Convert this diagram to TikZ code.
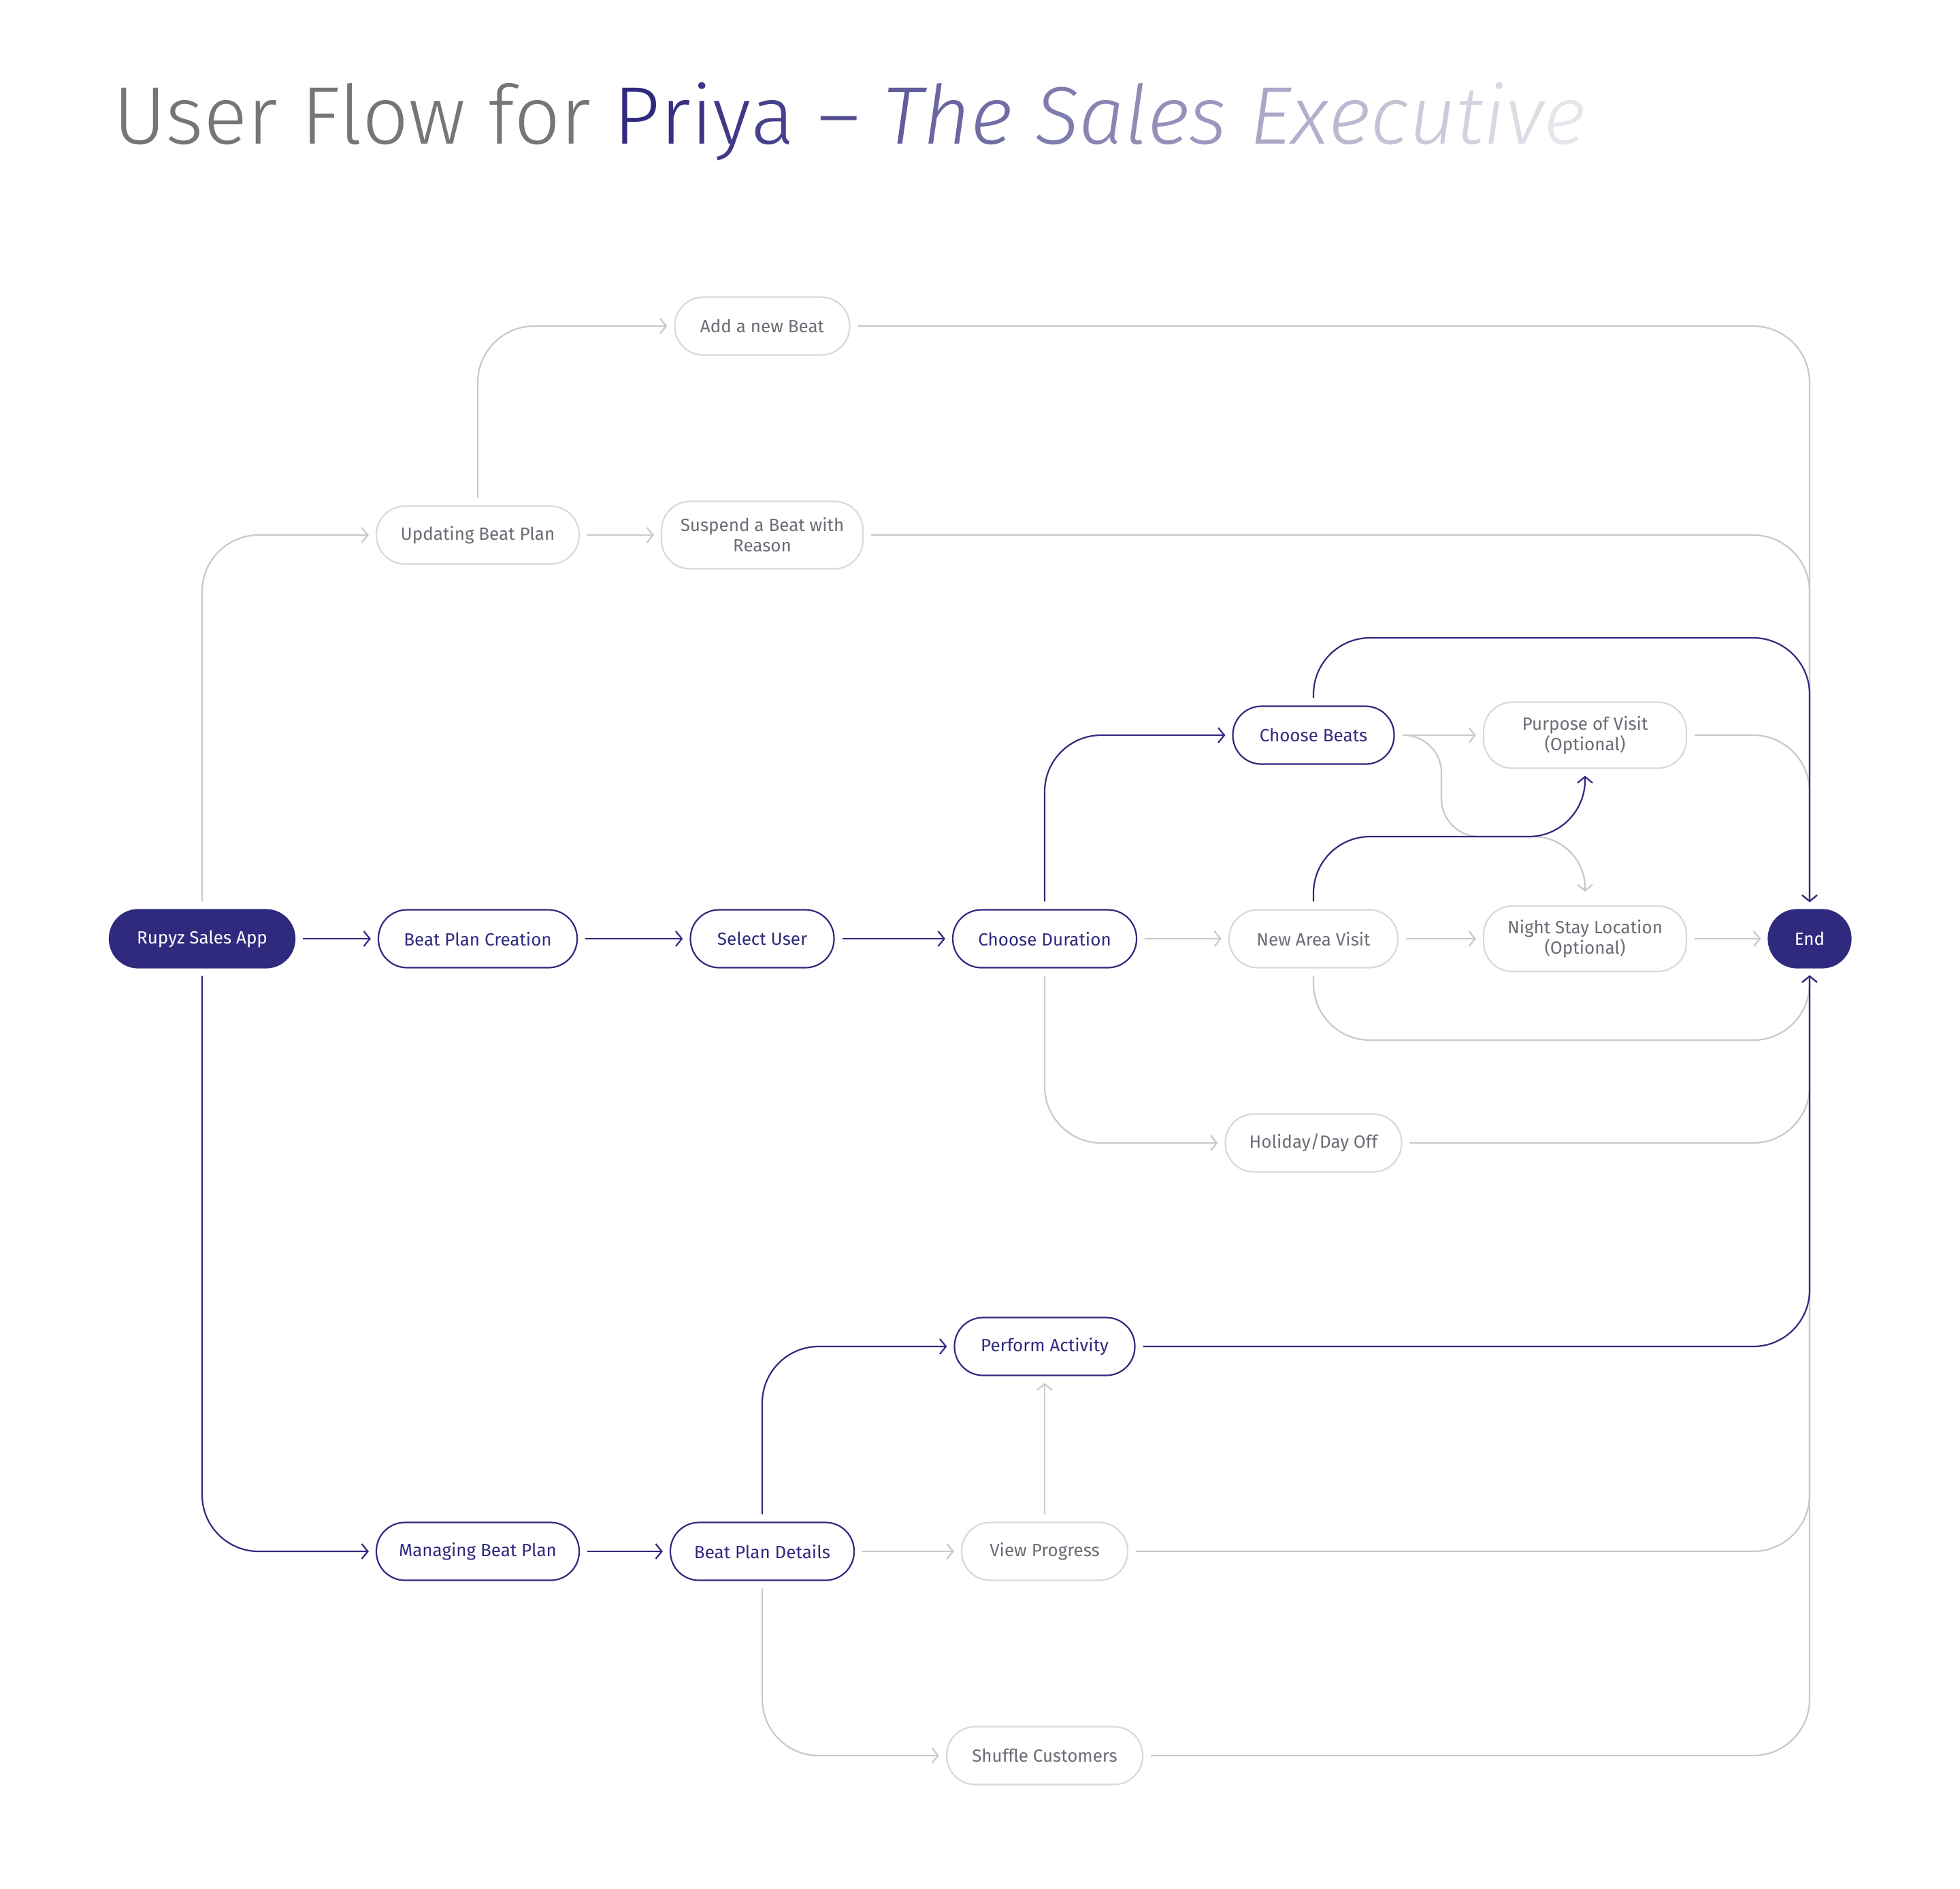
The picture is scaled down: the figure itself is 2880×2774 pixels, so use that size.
\documentclass[tikz,border=0pt]{standalone}
\usepackage{fontspec}
\setmainfont{Fira Sans}
\newfontfamily\titlefont{Fira Sans Light}
\usetikzlibrary{arrows.meta}
\definecolor{navy}{RGB}{48,42,126}
\definecolor{tlight}{RGB}{235,235,238}
\definecolor{titlegray}{RGB}{118,118,118}
\definecolor{grayb}{RGB}{216,216,221}
\definecolor{grayl}{RGB}{200,200,206}
\definecolor{grayt}{RGB}{108,108,118}
\newcommand{\tc}[2]{\textcolor{navy!#1!tlight}{#2}}
\begin{document}
\begin{tikzpicture}[x=1pt,y=-1pt,
  box/.style={rectangle, rounded corners=42pt, minimum height=85pt, align=center,
    line width=2.2pt, inner sep=0pt, font=\fontsize{26}{30}\selectfont},
  nbox/.style={box, draw=navy, text=navy, fill=white},
  gbox/.style={box, draw=grayb, text=grayt, fill=white},
  nfill/.style={box, draw=navy, fill=navy, text=white},
  conn/.style={line width=2.2pt, rounded corners=83pt, shorten <=11pt, shorten >=10pt,
    -{Straight Barb[length=9pt,width=22pt]}},
  nl/.style={conn, draw=navy},
  gl/.style={conn, draw=grayl}
]
\useasboundingbox[fill=white] (0,0) rectangle (2880,2774);

\node[anchor=base west, inner sep=0pt, font=\titlefont\fontsize{120}{144}\selectfont] (title) at (166,211)
 {\textcolor{titlegray}{User Flow for }\tc{100}{P}\tc{96}{r}\tc{94}{i}\tc{92}{y}\tc{88}{a} \tc{81}{–} \itshape\tc{74}{T}\tc{69}{h}\tc{65}{e} \tc{58}{S}\tc{53}{a}\tc{49}{l}\tc{47}{e}\tc{43}{s} \tc{35}{E}\tc{31}{x}\tc{26}{e}\tc{21}{c}\tc{17}{u}\tc{13}{t}\tc{10}{i}\tc{8}{v}\tc{3}{e}};

% nodes
\node[nfill, minimum width=272pt] (app) at (297,1379) {Rupyz Sales App};
\node[nbox, minimum width=292pt] (bpc) at (702,1379) {Beat Plan Creation};
\node[nbox, minimum width=211pt] (su) at (1120,1379) {Select User};
\node[nbox, minimum width=270pt] (cd) at (1535,1379) {Choose Duration};
\node[gbox, minimum width=248pt] (nav) at (1930,1379) {New Area Visit};
\node[gbox, minimum width=298pt, minimum height=96pt] (nsl) at (2329,1379) {Night Stay Location\\(Optional)};
\node[nfill, minimum width=121pt] (end) at (2659,1379) {End};
\node[nbox, minimum width=237pt] (cb) at (1930,1080) {Choose Beats};
\node[gbox, minimum width=298pt, minimum height=97pt] (pov) at (2329,1080) {Purpose of Visit\\(Optional)};
\node[gbox, minimum width=259pt] (hol) at (1930,1679) {Holiday/Day Off};
\node[gbox, minimum width=298pt] (ubp) at (702,786) {Updating Beat Plan};
\node[gbox, minimum width=296pt, minimum height=99pt] (sbr) at (1120,786) {Suspend a Beat with\\Reason};
\node[gbox, minimum width=257pt] (anb) at (1120,479) {Add a new Beat};
\node[nbox, minimum width=265pt] (pa) at (1535,1978) {Perform Activity};
\node[nbox, minimum width=298pt] (mbp) at (702,2279) {Managing Beat Plan};
\node[nbox, minimum width=270pt] (bpd) at (1120,2279) {Beat Plan Details};
\node[gbox, minimum width=244pt] (vp) at (1535,2279) {View Progress};
\node[gbox, minimum width=288pt] (shc) at (1535,2579) {Shuffle Customers};

% gray connectors
\draw[gl] (app.north) |- (ubp.west);
\draw[gl] (ubp.east) -- (sbr.west);
\draw[gl] (ubp.north) |- (anb.west);
\draw[gl] (anb.east) -| (end.north);
\draw[gl] (sbr.east) -| (end.north);
\draw[gl] (pov.east) -| (end.north);
\draw[gl] (cb.east) -- (pov.west);
\draw[gl, rounded corners=0pt] ([xshift=11pt]cb.east) -- (2063,1080)
  .. controls (2093,1080) and (2118,1105) .. (2118,1135) -- (2118,1174)
  .. controls (2118,1204) and (2143,1229) .. (2173,1229) -- (2254,1229)
  .. controls (2295,1229) and (2329,1263) .. (2329,1304) -- ([yshift=10pt]nsl.north);
\draw[gl] (cd.east) -- (nav.west);
\draw[gl] (nav.east) -- (nsl.west);
\draw[gl] (nsl.east) -- (end.west);
\draw[gl] (nav.south) |- (2200,1528) -| (end.south);
\draw[gl] (cd.south) |- (hol.west);
\draw[gl] (hol.east) -| (end.south);
\draw[gl] (bpd.east) -- (vp.west);
\draw[gl] (vp.north) -- (pa.south);
\draw[gl] (vp.east) -| (end.south);
\draw[gl] (bpd.south) |- (shc.west);
\draw[gl] (shc.east) -| (end.south);

% navy connectors
\draw[nl] (app.east) -- (bpc.west);
\draw[nl] (bpc.east) -- (su.west);
\draw[nl] (su.east) -- (cd.west);
\draw[nl] (cd.north) |- (cb.west);
\draw[nl] (cb.north) |- (2300,937) -| (end.north);
\draw[nl] (nav.north) |- (2100,1229) -| (pov.south);
\draw[nl] (app.south) |- (mbp.west);
\draw[nl] (mbp.east) -- (bpd.west);
\draw[nl] (bpd.north) |- (pa.west);
\draw[nl] (pa.east) -| (end.south);
\end{tikzpicture}
\end{document}
